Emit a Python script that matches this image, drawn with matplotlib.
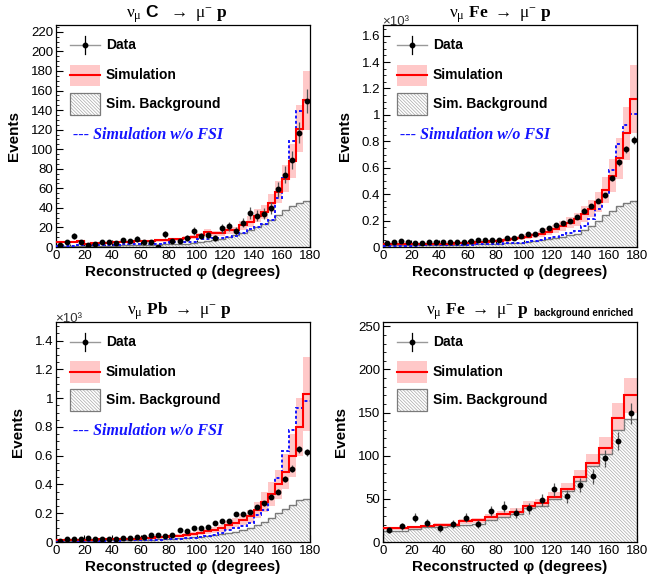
import numpy as np
import matplotlib
matplotlib.use("Agg")
import matplotlib.pyplot as plt
from matplotlib.patches import Rectangle
from matplotlib.ticker import MultipleLocator, FuncFormatter

plt.rcParams['font.family'] = ['Liberation Sans', 'DejaVu Sans']
plt.rcParams['mathtext.fontset'] = 'custom'
plt.rcParams['mathtext.rm'] = 'Liberation Serif'
plt.rcParams['mathtext.it'] = 'Liberation Serif:italic'
plt.rcParams['mathtext.bf'] = 'Liberation Serif:bold'
plt.rcParams['mathtext.sf'] = 'Liberation Sans:bold'
plt.rcParams['hatch.linewidth'] = 0.5

# ---- data: 5 degree bins (C, Fe, Pb), 9 degree bins (background enriched)
edges5 = np.arange(0, 181, 5)
edges9 = np.arange(0, 181, 9)

c_data = [2, 5, 11, 5, 2, 3, 5, 5, 4, 7, 6, 8, 5, 5, 0, 13, 6, 6, 9, 16,
          11, 12, 9, 19, 21, 16, 25, 35, 32, 34, 40, 59, 74, 89, 117, 149]
c_err = [1.4, 2.2, 3.3, 2.2, 1.4, 1.7, 2.2, 2.2, 2.0, 2.6, 2.4, 2.8, 2.2, 2.2, 0, 3.6,
         2.4, 2.4, 3.0, 4.0, 3.3, 3.5, 3.0, 4.4, 4.6, 4.0, 5.0, 5.9, 5.7, 5.8, 6.3,
         7.7, 8.6, 9.4, 10.8, 12.2]
c_sim = [5, 5, 5, 6, 3, 4, 4, 4, 5, 5, 5, 6, 6, 6, 7, 7, 8, 8, 9, 10,
         12, 15, 14, 14, 17, 17, 22, 26, 32, 36, 45, 56, 70, 88, 121, 150]
c_nofsi = [1, 1, 1, 2, 2, 2, 2, 2, 2, 3, 3, 3, 3, 3, 3, 4, 5, 5, 5, 5,
           8, 8, 9, 9, 10, 11, 14, 18, 20, 24, 28, 50, 71, 108, 139, 150]
c_bkg = [1, 1, 1, 1, 1, 1, 1, 1, 1, 2, 2, 2, 2, 2, 2, 3, 3, 3, 3, 4,
         5, 6, 7, 8, 10, 12, 14, 17, 20, 24, 28, 33, 38, 42, 45, 47]

fe_data = [0.030, 0.035, 0.045, 0.040, 0.030, 0.030, 0.040, 0.040, 0.035, 0.035,
           0.035, 0.040, 0.045, 0.050, 0.055, 0.050, 0.055, 0.070, 0.065, 0.080,
           0.100, 0.100, 0.125, 0.145, 0.165, 0.180, 0.200, 0.225, 0.275, 0.310,
           0.350, 0.390, 0.520, 0.640, 0.740, 0.810]
fe_err = [0.0055, 0.0059, 0.0067, 0.0063, 0.0055, 0.0055, 0.0063, 0.0063, 0.0059, 0.0059,
          0.0059, 0.0063, 0.0067, 0.0071, 0.0074, 0.0071, 0.0074, 0.0084, 0.0081, 0.0089,
          0.0100, 0.0100, 0.0112, 0.0120, 0.0128, 0.0134, 0.0141, 0.0150, 0.0166, 0.0176,
          0.0187, 0.0197, 0.0228, 0.0253, 0.0272, 0.0285]
fe_sim = [0.020, 0.020, 0.020, 0.020, 0.022, 0.022, 0.024, 0.024, 0.025, 0.026,
          0.028, 0.030, 0.033, 0.036, 0.040, 0.044, 0.048, 0.053, 0.060, 0.068,
          0.078, 0.088, 0.100, 0.115, 0.135, 0.160, 0.185, 0.210, 0.250, 0.290,
          0.340, 0.430, 0.540, 0.670, 0.860, 1.120]
fe_nofsi = [0.010, 0.010, 0.010, 0.010, 0.010, 0.012, 0.012, 0.012, 0.014, 0.015,
            0.016, 0.017, 0.018, 0.020, 0.022, 0.024, 0.026, 0.028, 0.030, 0.034,
            0.040, 0.048, 0.055, 0.065, 0.078, 0.092, 0.105, 0.120, 0.160, 0.215,
            0.290, 0.390, 0.580, 0.780, 0.920, 1.010]
fe_bkg = [0.012, 0.012, 0.012, 0.013, 0.013, 0.013, 0.014, 0.014, 0.015, 0.016,
          0.017, 0.018, 0.019, 0.020, 0.022, 0.024, 0.026, 0.028, 0.030, 0.033,
          0.040, 0.045, 0.050, 0.057, 0.065, 0.075, 0.088, 0.100, 0.130, 0.160,
          0.200, 0.240, 0.270, 0.310, 0.330, 0.350]

pb_data = [0.010, 0.020, 0.020, 0.020, 0.025, 0.020, 0.020, 0.020, 0.020, 0.025,
           0.030, 0.035, 0.035, 0.050, 0.050, 0.045, 0.050, 0.080, 0.075, 0.100,
           0.100, 0.105, 0.130, 0.145, 0.145, 0.195, 0.195, 0.210, 0.245, 0.270,
           0.315, 0.350, 0.440, 0.510, 0.645, 0.625]
pb_err = [0.0032, 0.0045, 0.0045, 0.0045, 0.0050, 0.0045, 0.0045, 0.0045, 0.0045, 0.0050,
          0.0055, 0.0059, 0.0059, 0.0071, 0.0071, 0.0067, 0.0071, 0.0089, 0.0087, 0.0100,
          0.0100, 0.0102, 0.0114, 0.0120, 0.0120, 0.0140, 0.0140, 0.0145, 0.0157, 0.0164,
          0.0177, 0.0187, 0.0210, 0.0226, 0.0254, 0.0250]
pb_sim = [0.015, 0.015, 0.016, 0.016, 0.017, 0.017, 0.018, 0.018, 0.019, 0.020,
          0.022, 0.024, 0.026, 0.029, 0.032, 0.035, 0.039, 0.044, 0.050, 0.057,
          0.065, 0.074, 0.085, 0.097, 0.115, 0.135, 0.155, 0.180, 0.225, 0.280,
          0.335, 0.400, 0.490, 0.600, 0.800, 1.030]
pb_nofsi = [0.008, 0.008, 0.008, 0.008, 0.009, 0.009, 0.010, 0.010, 0.010, 0.011,
            0.012, 0.013, 0.014, 0.015, 0.017, 0.019, 0.021, 0.024, 0.027, 0.031,
            0.036, 0.042, 0.050, 0.060, 0.080, 0.100, 0.110, 0.130, 0.185, 0.220,
            0.335, 0.445, 0.630, 0.780, 0.935, 0.980]
pb_bkg = [0.008, 0.008, 0.009, 0.009, 0.009, 0.010, 0.010, 0.011, 0.011, 0.012,
          0.013, 0.014, 0.015, 0.016, 0.018, 0.020, 0.022, 0.025, 0.028, 0.032,
          0.036, 0.041, 0.047, 0.055, 0.062, 0.070, 0.080, 0.095, 0.115, 0.140,
          0.170, 0.200, 0.230, 0.260, 0.290, 0.300]

be_data = [14, 18, 28, 22, 16, 21, 28, 21, 36, 41, 34, 39, 49, 61, 53, 66, 76, 97, 117, 149]
be_err = [3.7, 4.2, 5.3, 4.7, 4.0, 4.6, 5.3, 4.6, 6.0, 6.4, 5.8, 6.2, 7.0, 7.8, 7.3,
          8.1, 8.7, 9.8, 10.8, 12.2]
be_sim = [16, 16, 17, 18, 20, 20, 24, 25, 29, 32, 35, 42, 45, 52, 61, 75, 91, 109, 144, 170]
be_bkg = [13, 13, 15, 17, 17, 18, 20, 21, 25, 29, 32, 39, 42, 50, 59, 71, 88, 102, 130, 142]

panels = [
    dict(title=r'$\mathrm{\nu_{\mu}}$ $\mathsf{C}$  $\rightarrow$ $\mathrm{\mu^{-}}$ $\mathbf{p}$',
         edges=edges5, data=c_data, err=c_err, sim=c_sim, nofsi=c_nofsi, bkg=c_bkg,
         rel=0.20, ymax=227, major=20, minor=5, x1e3=False, tx=0.476),
    dict(title=r'$\mathrm{\nu_{\mu}}$ $\mathbf{Fe}$ $\rightarrow$ $\mathrm{\mu^{-}}$ $\mathbf{p}$',
         edges=edges5, data=fe_data, err=fe_err, sim=fe_sim, nofsi=fe_nofsi, bkg=fe_bkg,
         rel=0.23, ymax=1.68, major=0.2, minor=0.05, x1e3=True, tx=0.46),
    dict(title=r'$\mathrm{\nu_{\mu}}$ $\mathbf{Pb}$ $\rightarrow$ $\mathrm{\mu^{-}}$ $\mathbf{p}$',
         edges=edges5, data=pb_data, err=pb_err, sim=pb_sim, nofsi=pb_nofsi, bkg=pb_bkg,
         rel=0.25, ymax=1.53, major=0.2, minor=0.05, x1e3=True, tx=0.484),
    dict(title=r'$\mathrm{\nu_{\mu}}$ $\mathbf{Fe}$ $\rightarrow$ $\mathrm{\mu^{-}}$ $\mathbf{p}$',
         edges=edges9, data=be_data, err=be_err, sim=be_sim, nofsi=None, bkg=be_bkg,
         rel=0.12, ymax=255, major=50, minor=10, x1e3=False, tx=0.37),
]

axes_pos = [
    [0.0866, 0.5734, 0.3926, 0.3834],
    [0.5920, 0.5734, 0.3926, 0.3834],
    [0.0866, 0.0639, 0.3926, 0.3800],
    [0.5920, 0.0639, 0.3926, 0.3800],
]

PINK = '#ffc8c8'
GREY = '#7a7a7a'
HATCH_GREY = '#a8a8a8'
BLUE = '#1414ff'
HATCH = '\\' * 10

fig = plt.figure(figsize=(6.47, 5.79), dpi=100)

for i, p in enumerate(panels):
    ax = fig.add_axes(axes_pos[i])
    e = p['edges']
    centers = (e[:-1] + e[1:]) / 2
    sim = np.array(p['sim'], dtype=float)

    ax.stairs(sim * (1 + p['rel']), e, baseline=sim * (1 - p['rel']), fill=True,
              color=PINK, lw=0, zorder=1)
    ax.stairs(p['bkg'], e, fill=True, facecolor='white', edgecolor=HATCH_GREY,
              hatch=HATCH, lw=0, zorder=2)
    ax.stairs(p['bkg'], e, color=GREY, lw=1.0, zorder=2.5)
    if p['nofsi'] is not None:
        ax.stairs(p['nofsi'], e, baseline=None, color=BLUE, lw=1.4,
                  linestyle=(0, (1.5, 1.2)), zorder=3)
    ax.stairs(sim, e, baseline=None, color='red', lw=1.5, zorder=4)
    ax.errorbar(centers, p['data'], yerr=p['err'], fmt='o', color='black', ms=3.2,
                ecolor='#555555', elinewidth=0.9, capsize=0, zorder=5)

    ax.set_xlim(0, 180)
    ax.set_ylim(0, p['ymax'])
    ax.xaxis.set_major_locator(MultipleLocator(20))
    ax.xaxis.set_minor_locator(MultipleLocator(5))
    ax.yaxis.set_major_locator(MultipleLocator(p['major']))
    ax.yaxis.set_minor_locator(MultipleLocator(p['minor']))
    ax.yaxis.set_major_formatter(FuncFormatter(lambda v, pos: '%g' % round(v, 3)))
    ax.tick_params(which='both', direction='in', top=False, right=False,
                   labelsize=9.5, pad=2)
    ax.tick_params(which='major', length=5, width=0.8)
    ax.tick_params(which='minor', length=2.5, width=0.6)
    for s in ax.spines.values():
        s.set_linewidth(0.9)

    ax.set_xlabel('Reconstructed φ (degrees)', fontsize=11, fontweight='bold', labelpad=2)
    ax.set_ylabel('Events', fontsize=11, fontweight='bold', labelpad=7)
    if p['x1e3']:
        ax.text(-0.005, 0.985, '×10³', transform=ax.transAxes, fontsize=9.5,
                color='#333333', ha='left', va='bottom')

    # title
    t = ax.text(p['tx'], 1.035, p['title'], transform=ax.transAxes, fontsize=12.5,
                ha='center', va='baseline')
    if i == 3:
        ax.annotate('background enriched', xy=(1, 0), xycoords=t, xytext=(4, 3),
                    textcoords='offset points', fontsize=7, fontweight='bold',
                    ha='left', va='bottom')

    # legend drawn by hand in axes coordinates
    x0, x1, xt = 0.055, 0.173, 0.197
    yd, ys, yb, yf = 0.91, 0.773, 0.645, 0.505
    bh = 0.098
    tr = ax.transAxes
    ax.plot([x0, x1], [yd, yd], color='#999999', lw=1.0, transform=tr, clip_on=False, zorder=6)
    ax.plot([(x0 + x1) / 2] * 2, [yd - 0.04, yd + 0.04], color='black', lw=0.9,
            transform=tr, clip_on=False, zorder=6)
    ax.plot([(x0 + x1) / 2], [yd], 'o', color='black', ms=3.2, transform=tr,
            clip_on=False, zorder=7)
    ax.text(xt, yd, 'Data', transform=tr, fontsize=10, fontweight='bold', va='center')

    ax.add_patch(Rectangle((x0, ys - bh / 2), x1 - x0, bh, transform=tr,
                           facecolor=PINK, edgecolor='none', zorder=6))
    ax.plot([x0, x1], [ys, ys], color='red', lw=1.5, transform=tr, zorder=7)
    ax.text(xt, ys, 'Simulation', transform=tr, fontsize=10, fontweight='bold', va='center')

    ax.add_patch(Rectangle((x0, yb - bh / 2), x1 - x0, bh, transform=tr,
                           facecolor='white', edgecolor=HATCH_GREY, hatch=HATCH,
                           lw=0, zorder=6))
    ax.add_patch(Rectangle((x0, yb - bh / 2), x1 - x0, bh, transform=tr,
                           facecolor='none', edgecolor=GREY, lw=0.9, zorder=6.5))
    ax.text(xt, yb, 'Sim. Background', transform=tr, fontsize=10, fontweight='bold',
            va='center')

    if p['nofsi'] is not None:
        ax.text(0.065, yf, '--- Simulation w/o FSI', transform=tr, fontsize=11.5,
                color=BLUE, fontweight='bold', fontstyle='italic',
                family=['Liberation Serif', 'DejaVu Serif'], va='center')

fig.savefig('out.png', dpi=100)
